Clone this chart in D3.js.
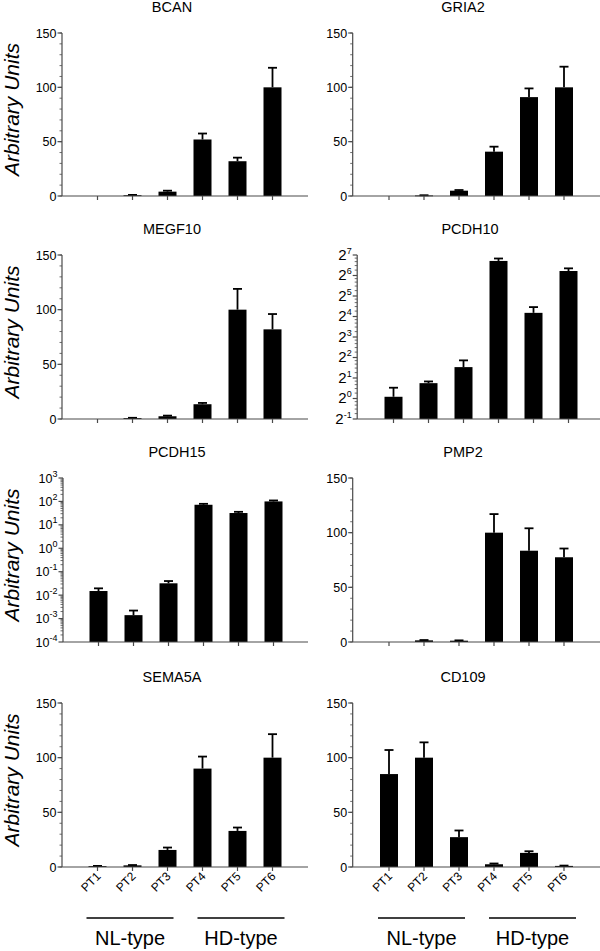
<!DOCTYPE html>
<html>
<head>
<meta charset="utf-8">
<script src="https://cdn.jsdelivr.net/npm/d3@7"></script>
<style>
  body { margin: 0; background: #fff; }
  svg text { font-family: "Liberation Sans", Arial, Helvetica, sans-serif; }
</style>
</head>
<body>
<div id="chart"></div>
<script>
// patients on the x axis
var patients = ["PT1", "PT2", "PT3", "PT4", "PT5", "PT6"];

// mean and upper error for each gene
var bcanMean = [0, 0.7, 4, 52, 32, 100];
var bcanErr = [0, 0.3, 0.9, 5.5, 3.3, 18];
var gria2Mean = [0, 0.5, 4.9, 40.8, 91, 100];
var gria2Err = [0, 0.2, 0.6, 4.6, 8, 19];
var megf10Mean = [0, 0.8, 2.5, 13.5, 100, 82];
var megf10Err = [0, 0.3, 0.6, 1.2, 19, 14];
var pcdh10Mean = [1.06, 1.68, 2.89, 104.7, 18.1, 74.5];
var pcdh10Err = [0.38, 0.1, 0.74, 9, 3.9, 7];
var pcdh15Mean = [0.015, 0.0014, 0.032, 72, 32, 100];
var pcdh15Err = [0.0045, 0.0008, 0.008, 7, 4, 10];
var pmp2Mean = [0, 1.5, 1.2, 100, 83.5, 77.5];
var pmp2Err = [0, 0.3, 0.3, 17, 20.5, 8];
var sema5aMean = [0.8, 1.5, 15.6, 90, 33, 100];
var sema5aErr = [0.2, 0.3, 2.2, 11, 3.1, 21.5];
var cd109Mean = [85, 100, 27.3, 2.5, 12.9, 1];
var cd109Err = [22, 14, 6.1, 0.7, 1.5, 0.3];

var linTicks = [0, 50, 100, 150];
var log2Exps = [-1, 0, 1, 2, 3, 4, 5, 6, 7];
var log10Exps = [-4, -3, -2, -1, 0, 1, 2, 3];
var groups = [
	{ label: "NL-type", from: 0, to: 2 },
	{ label: "HD-type", from: 3, to: 5 }
];

var panels = [
	{ title: "BCAN", mean: bcanMean, err: bcanErr, type: "lin", col: 0, row: 0 },
	{ title: "GRIA2", mean: gria2Mean, err: gria2Err, type: "lin", col: 1, row: 0 },
	{ title: "MEGF10", mean: megf10Mean, err: megf10Err, type: "lin", col: 0, row: 1 },
	{ title: "PCDH10", mean: pcdh10Mean, err: pcdh10Err, type: "log2", col: 1, row: 1, dx: 4.5, tdx: 7 },
	{ title: "PCDH15", mean: pcdh15Mean, err: pcdh15Err, type: "log10", col: 0, row: 2, dx: 1, tdx: 5 },
	{ title: "PMP2", mean: pmp2Mean, err: pmp2Err, type: "lin", col: 1, row: 2 },
	{ title: "SEMA5A", mean: sema5aMean, err: sema5aErr, type: "lin", col: 0, row: 3 },
	{ title: "CD109", mean: cd109Mean, err: cd109Err, type: "lin", col: 1, row: 3 }
];

var W = 600, H = 951;
var cols = [
	{ axisX: 62, xEnd: 308, band: [80, 290], titleX: 172 },
	{ axisX: 352.7, xEnd: 600, band: [371.5, 581.5], titleX: 463 }
];
var rows = [[33, 196], [255, 419], [478, 642], [703, 867]];
var axisColor = "#4a4a4a";

var svg = d3.select("#chart").append("svg")
	.attr("width", W)
	.attr("height", H);

panels.forEach(function(p) {
	var c = cols[p.col];
	var dx = p.dx || 0;
	var top = rows[p.row][0], bottom = rows[p.row][1];
	var axisX = c.axisX + (p.type == "log2" ? 4.5 : (p.type == "log10" ? 1 : 0));

	var x = d3.scaleBand()
		.domain(patients)
		.range([c.band[0] + dx, c.band[1] + dx])
		.paddingInner(0.486)
		.paddingOuter(0.243);

	var y, base;
	if (p.type == "lin") {
		y = d3.scaleLinear().domain([0, 150]).range([bottom, top]);
		base = 0;
	} else if (p.type == "log2") {
		y = d3.scaleLog().base(2).domain([0.5, 128]).range([bottom, top]);
		base = 0.5;
	} else {
		y = d3.scaleLog().base(10).domain([1e-4, 1e3]).range([bottom, top]);
		base = 1e-4;
	}

	var g = svg.append("g");

	// title
	g.append("text")
		.attr("x", c.titleX + (p.tdx || 0))
		.attr("y", top - 21)
		.attr("text-anchor", "middle")
		.style("font-size", "14.5px")
		.text(p.title);

	// bars
	var data = patients.map(function(d, i) {
		return { pt: d, v: p.mean[i], e: p.err[i] };
	});
	var bw = 18;
	g.selectAll("rect.bar")
		.data(data.filter(function(d) { return d.v > 0; }))
		.enter().append("rect")
		.attr("class", "bar")
		.attr("x", function(d) { return x(d.pt) + x.bandwidth() / 2 - bw / 2; })
		.attr("width", bw)
		.attr("y", function(d) { return y(d.v); })
		.attr("height", function(d) { return Math.max(0.8, y(base) - y(d.v)); })
		.attr("fill", "#000");

	// error bars (upper only)
	var eb = g.selectAll("g.err")
		.data(data.filter(function(d) { return d.e > 0; }))
		.enter().append("g")
		.attr("class", "err");
	eb.append("line")
		.attr("x1", function(d) { return x(d.pt) + x.bandwidth() / 2; })
		.attr("x2", function(d) { return x(d.pt) + x.bandwidth() / 2; })
		.attr("y1", function(d) { return y(d.v); })
		.attr("y2", function(d) { return y(d.v + d.e); })
		.attr("stroke", "#000")
		.attr("stroke-width", 1.8);
	eb.append("line")
		.attr("x1", function(d) { return x(d.pt) + x.bandwidth() / 2 - 4.5; })
		.attr("x2", function(d) { return x(d.pt) + x.bandwidth() / 2 + 4.5; })
		.attr("y1", function(d) { return y(d.v + d.e); })
		.attr("y2", function(d) { return y(d.v + d.e); })
		.attr("stroke", "#000")
		.attr("stroke-width", 1.8);

	// y axis
	var minor = [];
	var majors = [];
	if (p.type == "lin") {
		minor = d3.range(0, 151, 10);
		majors = linTicks.map(function(t) { return { v: t, base: String(t), exp: null }; });
	} else if (p.type == "log2") {
		log2Exps.forEach(function(k) {
			if (k < 7) [1.2, 1.4, 1.6, 1.8].forEach(function(m) { minor.push(m * Math.pow(2, k)); });
		});
		majors = log2Exps.map(function(k) { return { v: Math.pow(2, k), base: "2", exp: String(k) }; });
	} else {
		log10Exps.forEach(function(k) {
			if (k < 3) d3.range(2, 10).forEach(function(m) { minor.push(m * Math.pow(10, k)); });
		});
		majors = log10Exps.map(function(k) { return { v: Math.pow(10, k), base: "10", exp: String(k) }; });
	}

	g.append("line")
		.attr("x1", axisX).attr("x2", axisX)
		.attr("y1", top).attr("y2", bottom)
		.attr("stroke", axisColor).attr("stroke-width", 1.2);

	g.selectAll("line.minor")
		.data(minor)
		.enter().append("line")
		.attr("class", "minor")
		.attr("x1", axisX - 2.5).attr("x2", axisX)
		.attr("y1", function(d) { return y(d); })
		.attr("y2", function(d) { return y(d); })
		.attr("stroke", axisColor).attr("stroke-width", 0.8);

	g.selectAll("line.major")
		.data(majors)
		.enter().append("line")
		.attr("class", "major")
		.attr("x1", axisX - 4.5).attr("x2", axisX)
		.attr("y1", function(d) { return y(d.v); })
		.attr("y2", function(d) { return y(d.v); })
		.attr("stroke", axisColor).attr("stroke-width", 1.2);

	var labels = g.selectAll("text.ylab")
		.data(majors)
		.enter().append("text")
		.attr("class", "ylab")
		.attr("x", axisX - 5.5)
		.attr("y", function(d) { return y(d.v) + 4.5; })
		.attr("text-anchor", "end")
		.style("font-size", "12.5px");
	labels.each(function(d) {
		var t = d3.select(this);
		if (d.exp === null) {
			t.text(d.base);
		} else {
			t.append("tspan").style("font-size", p.type == "log2" ? "15px" : "12.5px").text(d.base);
			t.append("tspan").attr("dy", -6).style("font-size", "9px").text(d.exp);
		}
	});

	// x axis
	g.append("line")
		.attr("x1", axisX).attr("x2", c.xEnd)
		.attr("y1", bottom).attr("y2", bottom)
		.attr("stroke", axisColor).attr("stroke-width", 1.2);
	g.selectAll("line.xtick")
		.data(patients)
		.enter().append("line")
		.attr("class", "xtick")
		.attr("x1", function(d) { return x(d) + x.bandwidth() / 2; })
		.attr("x2", function(d) { return x(d) + x.bandwidth() / 2; })
		.attr("y1", bottom).attr("y2", bottom + 4)
		.attr("stroke", axisColor).attr("stroke-width", 1.2);

	// y axis title on the left column
	if (p.col == 0) {
		g.append("text")
			.attr("transform", "translate(19," + ((top + bottom) / 2 - 5) + ") rotate(-90)")
			.attr("text-anchor", "middle")
			.style("font-size", "21px")
			.style("font-style", "italic")
			.text("Arbitrary Units");
	}

	// patient labels and groups on bottom row
	if (p.row == 3) {
		g.selectAll("text.xlab")
			.data(patients)
			.enter().append("text")
			.attr("class", "xlab")
			.attr("transform", function(d) {
				return "translate(" + (x(d) + x.bandwidth() / 2 + 4) + "," + (bottom + 10) + ") rotate(-45)";
			})
			.attr("text-anchor", "end")
			.style("font-size", "12px")
			.text(function(d) { return d; });

		groups.forEach(function(gr, gi) {
			var x1 = x(patients[gr.from]) + x.bandwidth() / 2 - (gi == 0 ? 11 : 5);
			var x2 = x(patients[gr.to]) + x.bandwidth() / 2 + (gi == 0 ? 6 : 12);
			g.append("line")
				.attr("x1", x1).attr("x2", x2)
				.attr("y1", bottom + 51).attr("y2", bottom + 51)
				.attr("stroke", "#000").attr("stroke-width", 1.4);
			g.append("text")
				.attr("x", (x1 + x2) / 2)
				.attr("y", bottom + 78)
				.attr("text-anchor", "middle")
				.style("font-size", "20px")
				.text(gr.label);
		});
	}
});
</script>
</body>
</html>
